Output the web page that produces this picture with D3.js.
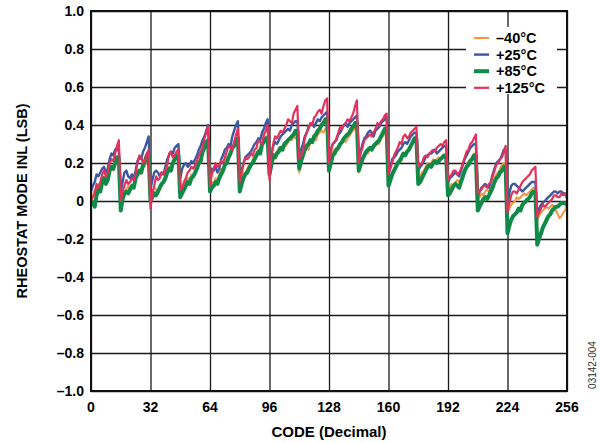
<!DOCTYPE html>
<html lang="en">
  <head>
    <meta charset="utf-8">
    <title>Rheostat mode INL vs code</title>
    <script type="text/javascript" src="https://cdn.jsdelivr.net/npm/d3@7/dist/d3.min.js"></script>
    <style>
    body {
      margin: 0;
      background: #ffffff;
    }
    #chart text {
      font-family: "Liberation Sans", Arial, sans-serif;
      font-weight: bold;
    }
    .grid line {
      stroke: #1a1a1a;
      stroke-width: 1.3;
    }
    .grid path {
      display: none;
    }
    .series {
      fill: none;
      stroke-linejoin: round;
    }
    </style>
  </head>
  <body>
    <div id="chart"></div>
    <script type="text/javascript">

      // ---- data (one value per code, 16 codes per row) ----
      var codes = d3.range(0, 257);

      var xTicks = [0, 32, 64, 96, 128, 160, 192, 224, 256];
      var yTicks = [-1.0, -0.8, -0.6, -0.4, -0.2, 0, 0.2, 0.4, 0.6, 0.8, 1.0];
      var yTickLabels = ['–1.0', '–0.8', '–0.6', '–0.4', '–0.2', '0', '0.2', '0.4', '0.6', '0.8', '1.0'];

      var seriesNames = ['–40°C', '+25°C', '+85°C', '+125°C'];

      var inlMinus40 = [
        0.02, 0.03, 0.06, 0.05, 0.08, 0.10, 0.09, 0.11, 0.13, 0.12, 0.15, 0.17, 0.16, 0.19, 0.20, 0.21,
        0.03, 0.02, 0.05, 0.06, 0.08, 0.06, 0.07, 0.09, 0.13, 0.15, 0.14, 0.17, 0.19, 0.18, 0.22, 0.22,
        0.03, 0.05, 0.07, 0.06, 0.04, 0.06, 0.09, 0.10, 0.14, 0.15, 0.18, 0.17, 0.20, 0.21, 0.23, 0.22,
        0.05, 0.06, 0.09, 0.10, 0.12, 0.11, 0.14, 0.13, 0.16, 0.19, 0.21, 0.20, 0.25, 0.27, 0.29, 0.30,
        0.08, 0.10, 0.09, 0.12, 0.11, 0.14, 0.17, 0.16, 0.20, 0.23, 0.22, 0.26, 0.28, 0.29, 0.32, 0.33,
        0.08, 0.12, 0.15, 0.14, 0.17, 0.19, 0.18, 0.22, 0.24, 0.23, 0.27, 0.28, 0.30, 0.31, 0.34, 0.34,
        0.15, 0.20, 0.25, 0.24, 0.26, 0.28, 0.27, 0.29, 0.30, 0.29, 0.31, 0.33, 0.32, 0.34, 0.33, 0.33,
        0.15, 0.21, 0.24, 0.26, 0.28, 0.27, 0.31, 0.32, 0.33, 0.32, 0.35, 0.36, 0.37, 0.36, 0.38, 0.38,
        0.17, 0.22, 0.26, 0.27, 0.28, 0.27, 0.30, 0.31, 0.32, 0.31, 0.33, 0.34, 0.36, 0.37, 0.38, 0.38,
        0.15, 0.19, 0.22, 0.25, 0.26, 0.25, 0.27, 0.28, 0.28, 0.29, 0.31, 0.30, 0.33, 0.34, 0.36, 0.36,
        0.08, 0.12, 0.15, 0.17, 0.19, 0.21, 0.22, 0.21, 0.25, 0.24, 0.26, 0.27, 0.29, 0.31, 0.32, 0.32,
        0.12, 0.13, 0.15, 0.16, 0.18, 0.20, 0.19, 0.20, 0.22, 0.21, 0.22, 0.23, 0.22, 0.24, 0.24, 0.24,
        0.06, 0.07, 0.09, 0.08, 0.10, 0.11, 0.10, 0.12, 0.15, 0.17, 0.19, 0.21, 0.22, 0.23, 0.25, 0.25,
        0.00, 0.02, 0.04, 0.03, 0.05, 0.06, 0.05, 0.07, 0.09, 0.12, 0.14, 0.15, 0.17, 0.19, 0.20, 0.20,
        -0.07, -0.04, -0.02, -0.01, 0.00, 0.02, 0.01, 0.02, 0.03, 0.04, 0.03, 0.04, 0.05, 0.06, 0.07, 0.07,
        -0.10, -0.08, -0.06, -0.05, -0.04, -0.03, -0.04, -0.03, -0.02, -0.03, -0.05, -0.07, -0.09, -0.08, -0.06, -0.05,
        -0.01
      ];

      var inlPlus25 = [
        0.05, 0.08, 0.10, 0.14, 0.13, 0.15, 0.17, 0.18, 0.15, 0.17, 0.22, 0.25, 0.24, 0.27, 0.28, 0.26,
        0.05, 0.10, 0.15, 0.16, 0.13, 0.12, 0.14, 0.12, 0.16, 0.21, 0.23, 0.22, 0.26, 0.28, 0.31, 0.34,
        0.06, 0.11, 0.15, 0.16, 0.15, 0.13, 0.15, 0.14, 0.18, 0.22, 0.24, 0.26, 0.25, 0.28, 0.29, 0.30,
        0.12, 0.17, 0.19, 0.20, 0.18, 0.19, 0.21, 0.20, 0.22, 0.24, 0.27, 0.29, 0.32, 0.34, 0.37, 0.40,
        0.14, 0.17, 0.16, 0.18, 0.15, 0.17, 0.22, 0.24, 0.27, 0.28, 0.30, 0.29, 0.34, 0.37, 0.40, 0.42,
        0.12, 0.16, 0.20, 0.23, 0.24, 0.25, 0.26, 0.28, 0.30, 0.31, 0.33, 0.32, 0.36, 0.38, 0.41, 0.43,
        0.18, 0.24, 0.29, 0.31, 0.30, 0.32, 0.34, 0.35, 0.36, 0.37, 0.38, 0.37, 0.40, 0.41, 0.42, 0.42,
        0.24, 0.27, 0.30, 0.34, 0.36, 0.39, 0.40, 0.41, 0.39, 0.41, 0.43, 0.42, 0.44, 0.45, 0.46, 0.47,
        0.22, 0.27, 0.30, 0.31, 0.32, 0.35, 0.36, 0.38, 0.40, 0.41, 0.39, 0.41, 0.42, 0.43, 0.44, 0.45,
        0.20, 0.26, 0.30, 0.33, 0.34, 0.36, 0.37, 0.36, 0.34, 0.37, 0.38, 0.39, 0.41, 0.42, 0.43, 0.44,
        0.14, 0.18, 0.22, 0.23, 0.24, 0.26, 0.27, 0.28, 0.30, 0.31, 0.30, 0.32, 0.34, 0.35, 0.36, 0.36,
        0.16, 0.18, 0.19, 0.21, 0.23, 0.24, 0.25, 0.25, 0.26, 0.27, 0.25, 0.26, 0.27, 0.28, 0.29, 0.29,
        0.10, 0.12, 0.13, 0.14, 0.15, 0.14, 0.13, 0.16, 0.19, 0.22, 0.24, 0.26, 0.28, 0.29, 0.30, 0.30,
        0.02, 0.05, 0.07, 0.08, 0.09, 0.08, 0.07, 0.10, 0.14, 0.17, 0.20, 0.21, 0.22, 0.24, 0.27, 0.27,
        -0.03, 0.04, 0.08, 0.09, 0.09, 0.08, 0.07, 0.06, 0.05, 0.06, 0.07, 0.08, 0.09, 0.10, 0.10, 0.10,
        -0.07, -0.04, -0.02, -0.01, 0.00, 0.01, 0.02, 0.03, 0.04, 0.05, 0.05, 0.04, 0.05, 0.05, 0.04, 0.04,
        0.02
      ];

      var inlPlus85 = [
        0.00, -0.01, -0.03, 0.03, 0.06, 0.05, 0.10, 0.12, 0.09, 0.11, 0.16, 0.18, 0.17, 0.20, 0.23, 0.22,
        -0.05, 0.01, 0.04, 0.05, 0.04, 0.06, 0.08, 0.07, 0.12, 0.14, 0.16, 0.15, 0.19, 0.21, 0.24, 0.24,
        0.00, 0.02, 0.04, 0.03, 0.05, 0.07, 0.09, 0.10, 0.12, 0.15, 0.17, 0.16, 0.20, 0.22, 0.24, 0.24,
        0.02, 0.04, 0.06, 0.08, 0.10, 0.09, 0.12, 0.13, 0.15, 0.17, 0.20, 0.21, 0.26, 0.28, 0.31, 0.32,
        0.05, 0.07, 0.08, 0.10, 0.09, 0.12, 0.14, 0.16, 0.19, 0.20, 0.23, 0.25, 0.28, 0.29, 0.32, 0.33,
        0.05, 0.09, 0.12, 0.14, 0.15, 0.17, 0.19, 0.20, 0.22, 0.24, 0.26, 0.25, 0.30, 0.31, 0.33, 0.33,
        0.14, 0.19, 0.24, 0.23, 0.25, 0.26, 0.28, 0.27, 0.30, 0.31, 0.32, 0.33, 0.34, 0.35, 0.37, 0.37,
        0.17, 0.21, 0.24, 0.27, 0.29, 0.30, 0.32, 0.31, 0.34, 0.35, 0.37, 0.38, 0.40, 0.41, 0.43, 0.43,
        0.16, 0.20, 0.24, 0.25, 0.27, 0.28, 0.30, 0.31, 0.33, 0.34, 0.35, 0.36, 0.38, 0.39, 0.41, 0.41,
        0.16, 0.19, 0.22, 0.24, 0.26, 0.27, 0.28, 0.27, 0.29, 0.30, 0.31, 0.32, 0.34, 0.36, 0.38, 0.38,
        0.08, 0.11, 0.14, 0.16, 0.18, 0.20, 0.21, 0.23, 0.25, 0.24, 0.26, 0.27, 0.29, 0.31, 0.33, 0.33,
        0.09, 0.10, 0.12, 0.14, 0.16, 0.18, 0.19, 0.18, 0.20, 0.21, 0.20, 0.21, 0.22, 0.23, 0.24, 0.24,
        0.03, 0.04, 0.06, 0.08, 0.09, 0.08, 0.07, 0.10, 0.13, 0.16, 0.18, 0.19, 0.21, 0.22, 0.24, 0.24,
        -0.05, -0.03, -0.01, 0.01, 0.02, 0.01, 0.03, 0.05, 0.07, 0.10, 0.12, 0.13, 0.15, 0.16, 0.18, 0.18,
        -0.17, -0.13, -0.10, -0.08, -0.07, -0.06, -0.04, -0.05, -0.02, -0.01, 0.00, 0.01, 0.02, 0.04, 0.05, 0.05,
        -0.23, -0.20, -0.17, -0.14, -0.12, -0.10, -0.08, -0.07, -0.05, -0.04, -0.03, -0.03, -0.02, -0.01, -0.01, -0.01,
        -0.02
      ];

      var inlPlus125 = [
        0.00, 0.02, 0.04, 0.09, 0.07, 0.10, 0.14, 0.16, 0.13, 0.15, 0.20, 0.22, 0.21, 0.25, 0.29, 0.32,
        0.00, 0.05, 0.08, 0.11, 0.09, 0.10, 0.12, 0.11, 0.14, 0.20, 0.24, 0.23, 0.20, 0.21, 0.25, 0.27,
        -0.04, 0.04, 0.08, 0.13, 0.11, 0.12, 0.15, 0.14, 0.16, 0.19, 0.25, 0.26, 0.23, 0.24, 0.26, 0.27,
        0.06, 0.07, 0.10, 0.12, 0.15, 0.16, 0.18, 0.17, 0.19, 0.21, 0.24, 0.26, 0.28, 0.33, 0.36, 0.39,
        0.08, 0.14, 0.17, 0.20, 0.18, 0.19, 0.21, 0.20, 0.23, 0.26, 0.29, 0.28, 0.27, 0.31, 0.35, 0.38,
        0.10, 0.15, 0.19, 0.23, 0.22, 0.23, 0.25, 0.24, 0.27, 0.28, 0.32, 0.31, 0.30, 0.35, 0.37, 0.40,
        0.11, 0.24, 0.30, 0.34, 0.33, 0.35, 0.37, 0.36, 0.38, 0.40, 0.43, 0.42, 0.41, 0.46, 0.48, 0.50,
        0.22, 0.24, 0.26, 0.33, 0.36, 0.38, 0.41, 0.40, 0.44, 0.45, 0.47, 0.48, 0.46, 0.50, 0.53, 0.54,
        0.20, 0.26, 0.30, 0.31, 0.33, 0.36, 0.39, 0.38, 0.40, 0.41, 0.43, 0.42, 0.44, 0.46, 0.50, 0.53,
        0.20, 0.25, 0.28, 0.32, 0.33, 0.34, 0.35, 0.34, 0.36, 0.38, 0.41, 0.40, 0.42, 0.43, 0.45, 0.46,
        0.14, 0.17, 0.20, 0.24, 0.26, 0.28, 0.31, 0.30, 0.34, 0.35, 0.33, 0.34, 0.36, 0.37, 0.38, 0.39,
        0.18, 0.19, 0.20, 0.23, 0.24, 0.23, 0.25, 0.26, 0.27, 0.26, 0.28, 0.29, 0.30, 0.29, 0.31, 0.32,
        0.11, 0.13, 0.14, 0.16, 0.16, 0.14, 0.15, 0.17, 0.20, 0.23, 0.26, 0.27, 0.30, 0.31, 0.33, 0.35,
        0.04, 0.05, 0.06, 0.08, 0.08, 0.07, 0.09, 0.10, 0.13, 0.16, 0.19, 0.20, 0.22, 0.23, 0.26, 0.29,
        -0.06, -0.01, 0.03, 0.05, 0.05, 0.04, 0.06, 0.08, 0.10, 0.11, 0.12, 0.13, 0.14, 0.16, 0.17, 0.18,
        -0.08, -0.06, -0.04, -0.02, -0.03, -0.02, -0.01, 0.00, 0.01, 0.03, 0.03, 0.02, 0.02, 0.04, 0.03, 0.04,
        0.01
      ];

      var seriesValues = [inlMinus40, inlPlus25, inlPlus85, inlPlus125];
      var seriesColors = ['#f7943f', '#3b58a3', '#0f8a48', '#e2325c'];
      var seriesWidths = [2, 2.4, 4, 2.2];

      // ---- layout ----
      var dimensions = {
        w: 600,
        h: 443,
        left: 91,
        right: 567,
        top: 11,
        bottom: 391
      };

      var svg = d3.select('#chart')
        .append('svg')
          .attr('width', dimensions.w)
          .attr('height', dimensions.h);

      var xScale = d3.scaleLinear()
        .domain([0, 256])
        .range([dimensions.left, dimensions.right]);

      var yScale = d3.scaleLinear()
        .domain([-1, 1])
        .range([dimensions.bottom, dimensions.top]);

      // gridlines
      svg.append('g')
        .attr('class', 'grid')
        .attr('transform', 'translate(0,' + dimensions.bottom + ')')
        .call(d3.axisBottom(xScale)
          .tickValues(xTicks)
          .tickSize(-(dimensions.bottom - dimensions.top))
          .tickFormat(''));

      svg.append('g')
        .attr('class', 'grid')
        .attr('transform', 'translate(' + dimensions.left + ',0)')
        .call(d3.axisLeft(yScale)
          .tickValues(yTicks)
          .tickSize(-(dimensions.right - dimensions.left))
          .tickFormat(''));

      // series
      var line = d3.line()
        .x(function(d, i) { return xScale(codes[i]); })
        .y(function(d) { return yScale(d); });

      svg.selectAll('.series')
        .data(seriesValues)
        .enter()
        .append('path')
          .attr('class', 'series')
          .attr('d', line)
          .attr('stroke', function(d, i) { return seriesColors[i]; })
          .attr('stroke-width', function(d, i) { return seriesWidths[i]; });

      // legend
      var legend = svg.append('g')
        .attr('transform', 'translate(466,27)');

      legend.append('rect')
        .attr('width', 91)
        .attr('height', 67)
        .attr('fill', '#ffffff');

      var rows = legend.selectAll('.legend-row')
        .data(seriesNames)
        .enter()
        .append('g')
          .attr('class', 'legend-row')
          .attr('transform', function(d, i) { return 'translate(0,' + (11 + i * 16.6) + ')'; });

      rows.append('line')
        .attr('x1', 8)
        .attr('x2', 23)
        .attr('stroke', function(d, i) { return seriesColors[i]; })
        .attr('stroke-width', function(d, i) { return seriesWidths[i]; });

      rows.append('text')
        .attr('x', 30)
        .attr('dy', '0.36em')
        .style('font-size', '14.5px')
        .text(function(d) { return d; });

      // frame
      svg.append('rect')
        .attr('x', dimensions.left)
        .attr('y', dimensions.top)
        .attr('width', dimensions.right - dimensions.left)
        .attr('height', dimensions.bottom - dimensions.top)
        .attr('fill', 'none')
        .attr('stroke', '#111111')
        .attr('stroke-width', 2);

      // tick labels
      svg.append('g')
        .selectAll('text')
        .data(xTicks)
        .enter()
        .append('text')
          .attr('x', function(d) { return xScale(d); })
          .attr('y', 412)
          .attr('text-anchor', 'middle')
          .style('font-size', '14px')
          .text(function(d) { return d; });

      svg.append('g')
        .selectAll('text')
        .data(yTicks)
        .enter()
        .append('text')
          .attr('x', 84)
          .attr('y', function(d) { return yScale(d); })
          .attr('dy', '0.36em')
          .attr('text-anchor', 'end')
          .style('font-size', '14px')
          .text(function(d, i) { return yTickLabels[i]; });

      // axis titles
      svg.append('text')
        .attr('x', (dimensions.left + dimensions.right) / 2)
        .attr('y', 437)
        .attr('text-anchor', 'middle')
        .style('font-size', '15px')
        .text('CODE (Decimal)');

      svg.append('text')
        .attr('transform', 'translate(27,' + ((dimensions.top + dimensions.bottom) / 2) + ') rotate(-90)')
        .attr('text-anchor', 'middle')
        .style('font-size', '14.5px')
        .text('RHEOSTAT MODE INL (LSB)');

      // figure id
      svg.append('text')
        .attr('transform', 'translate(596,365) rotate(-90)')
        .attr('text-anchor', 'middle')
        .style('font-size', '10px')
        .style('font-weight', 'normal')
        .attr('fill', '#333333')
        .text('03142-004');

    </script>
  </body>
</html>
